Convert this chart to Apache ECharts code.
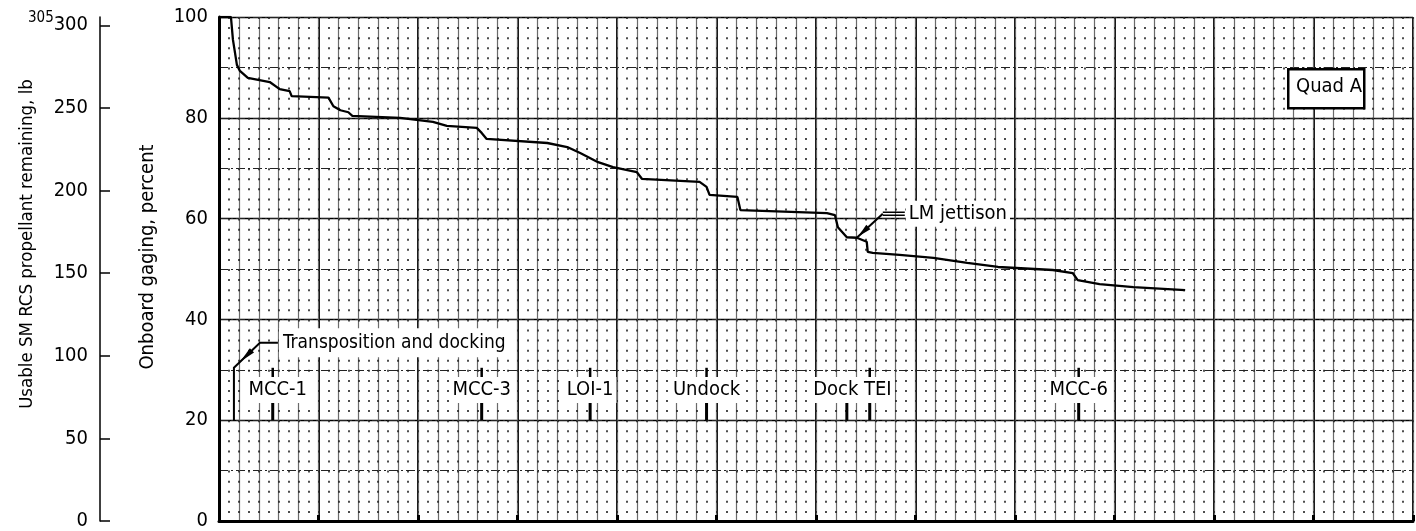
<!DOCTYPE html>
<html>
<head>
<meta charset="utf-8">
<script src="https://cdn.jsdelivr.net/npm/echarts@6/dist/echarts.min.js"></script>
<style>
  html, body { margin: 0; padding: 0; background: #fff; }
  #chart { width: 1416px; height: 531px; }
</style>
</head>
<body>
<div id="chart"></div>
<script>
// Mission elapsed time in chart-grid units (one minor division = 1 unit).
const missionTime = [
  0, 1.2, 1.4, 1.8, 2.1, 2.9, 5.1, 6.1, 7.1, 7.3, 11.0, 11.5, 12.2, 13.0, 13.4,
  18.2, 21.5, 22.9, 25.9, 26.4, 26.9, 33.0, 35.0, 36.3, 38.1, 39.6, 42.0, 42.5,
  48.3, 49.0, 49.3, 52.1, 52.4, 61.1, 61.9, 62.2, 63.1, 64.1, 65.1, 65.2, 65.7,
  68.4, 71.8, 75.2, 78.3, 83.8, 85.8, 86.3, 88.5, 91.9, 97.1
];
// Quad A onboard gaging, percent.
const gagingPercent = [
  100, 100, 95.5, 90.5, 89.3, 87.9, 87.1, 85.7, 85.3, 84.3, 84.0, 82.3, 81.5, 81.1, 80.4,
  80.0, 79.2, 78.4, 78.0, 77.0, 75.8, 75.0, 74.2, 73.0, 71.2, 70.2, 69.2, 67.9,
  67.3, 66.3, 64.7, 64.3, 61.7, 61.1, 60.7, 58.3, 56.3, 56.2, 55.4, 53.4, 53.2,
  52.8, 52.2, 51.2, 50.4, 49.8, 49.2, 47.8, 47.0, 46.4, 45.8
];

// Mission events marked along the 20-30 percent band.
const eventNames = ['MCC-1', 'MCC-3', 'LOI-1', 'Undock', 'Dock', 'TEI', 'MCC-6'];
const eventTimes = [5.4, 26.4, 37.3, 49.0, 63.1, 65.4, 86.4];

// Called-out events.
const dockingTime = 1.5;                 // transposition and docking
const lmJettison = [64.1, 56.2];         // time, gaging percent

// Axis scales.
const percentRange = [0, 100];
const poundsRange = [0, 305];            // 305 lb usable = 100 percent
const timeRange = [0, 120];

const NUM_FONT = '"DejaVu Sans Condensed", sans-serif';
const TXT_FONT = '"DejaVu Sans Condensed", sans-serif';

// Layout tweaks for event labels (pixels) and which events lack the upper tick.
const LABEL_SHIFT = { 'MCC-1': 5, 'Dock': -11, 'TEI': 8 };
const NO_UPPER_TICK = { 'Dock': true };

const chart = echarts.init(document.getElementById('chart'), null, { renderer: 'canvas' });

function hiddenAxisBits() {
  return { axisLine: { show: false }, axisTick: { show: false }, axisLabel: { show: false } };
}

function renderEvents(params, api) {
  const t = api.value(0);
  const name = eventNames[params.dataIndex];
  const shift = LABEL_SHIFT[name] || 0;
  const children = [];
  if (!NO_UPPER_TICK[name]) {
    const a = api.coord([t, 30.4]), b = api.coord([t, 28.4]);
    children.push({ type: 'line', shape: { x1: a[0], y1: a[1], x2: b[0], y2: b[1] },
      style: { stroke: '#000', lineWidth: 2.5 } });
  }
  const c = api.coord([t, 23.6]), d = api.coord([t, 20]);
  children.push({ type: 'line', shape: { x1: c[0], y1: c[1], x2: d[0], y2: d[1] },
    style: { stroke: '#000', lineWidth: 3 } });
  const lp = api.coord([t, 26]);
  children.push({ type: 'text', x: lp[0] + shift, y: lp[1], z2: 5,
    style: { text: name, fill: '#000', fontSize: 20, fontFamily: TXT_FONT,
      align: 'center', verticalAlign: 'middle', backgroundColor: '#fff', padding: [3, 3] } });
  return { type: 'group', children };
}

function arrowHead(from, to, pos, len, half) {
  // filled arrowhead on segment from->to, tip located at fraction pos, pointing toward "to"
  const dx = to[0] - from[0], dy = to[1] - from[1];
  const L = Math.hypot(dx, dy), ux = dx / L, uy = dy / L;
  const tip = [from[0] + dx * pos, from[1] + dy * pos];
  const bx = tip[0] - ux * len, by = tip[1] - uy * len;
  return [tip, [bx - uy * half, by + ux * half], [bx + uy * half, by - ux * half]];
}

function renderDocking(params, api) {
  const t = api.value(0);
  const base = api.coord([t, 20]);
  const knee = api.coord([t, 30.4]);
  const elbow = [knee[0] + 26, knee[1] - 25];
  const end = [elbow[0] + 18, elbow[1]];
  return { type: 'group', children: [
    { type: 'polyline', shape: { points: [base, knee, elbow, end] },
      style: { stroke: '#000', lineWidth: 2, fill: null } },
    { type: 'polygon', shape: { points: arrowHead(elbow, knee, 0.75, 16, 3) },
      style: { fill: '#000' } },
    { type: 'text', x: end[0] + 1, y: elbow[1], z2: 5,
      style: { text: 'Transposition and docking', fill: '#000', fontSize: 19, fontFamily: TXT_FONT,
        align: 'left', verticalAlign: 'middle', backgroundColor: '#fff', padding: [5, 4] } }
  ] };
}

function renderJettison(params, api) {
  const tip = api.coord([api.value(0), api.value(1)]);
  const elbow = [tip[0] + 26, tip[1] - 24];
  const end = [elbow[0] + 22, elbow[1]];
  return { type: 'group', children: [
    { type: 'line', shape: { x1: tip[0], y1: tip[1], x2: elbow[0], y2: elbow[1] },
      style: { stroke: '#000', lineWidth: 2 } },
    { type: 'polygon', shape: { points: arrowHead(elbow, tip, 0.95, 14, 3) },
      style: { fill: '#000' } },
    { type: 'line', shape: { x1: elbow[0], y1: elbow[1] - 1.5, x2: end[0], y2: end[1] - 1.5 },
      style: { stroke: '#000', lineWidth: 1.5 } },
    { type: 'line', shape: { x1: elbow[0], y1: elbow[1] + 1.5, x2: end[0], y2: end[1] + 1.5 },
      style: { stroke: '#000', lineWidth: 1.5 } },
    { type: 'text', x: end[0] + 1, y: elbow[1], z2: 5,
      style: { text: 'LM jettison', fill: '#000', fontSize: 20, fontFamily: TXT_FONT,
        align: 'left', verticalAlign: 'middle', backgroundColor: '#fff', padding: [3, 3] } }
  ] };
}

const option = {
  animation: false,
  backgroundColor: '#fff',
  grid: [
    // main plotting area
    { left: 219, right: 3, top: 17, bottom: 10, containLabel: false, outerBoundsMode: 'none' },
    // thin strip that carries the pounds scale
    { left: 100, width: 1, top: 17, bottom: 10, containLabel: false, outerBoundsMode: 'none' }
  ],
  xAxis: [
    { // major time divisions
      type: 'value', gridIndex: 0, min: timeRange[0], max: timeRange[1], interval: 10, position: 'bottom',
      axisLine: { show: true, onZero: false, lineStyle: { color: '#000', width: 3 } },
      axisTick: { show: true, inside: true, length: 6, lineStyle: { color: '#000', width: 3 } },
      axisLabel: { show: false },
      splitLine: { show: true, lineStyle: { color: '#111', width: 2 } }
    },
    Object.assign({ // solid minor lines
      type: 'value', gridIndex: 0, min: timeRange[0], max: timeRange[1], interval: 2, position: 'top',
      splitLine: { show: true, lineStyle: { color: '#6a6a6a', width: 1.2 } }
    }, hiddenAxisBits()),
    Object.assign({ // dotted minor lines
      type: 'value', gridIndex: 0, min: timeRange[0], max: timeRange[1], interval: 1, position: 'bottom', offset: 0,
      splitLine: { show: true, lineStyle: { color: '#222', width: 1.6, type: [2, 8.08] } }
    }, hiddenAxisBits()),
    Object.assign({ // companion axis of the pounds strip
      type: 'value', gridIndex: 1, min: 0, max: 1, splitLine: { show: false }
    }, hiddenAxisBits())
  ],
  yAxis: [
    { // onboard gaging, percent
      type: 'value', gridIndex: 0, min: percentRange[0], max: percentRange[1], interval: 20, position: 'left',
      name: 'Onboard gaging, percent', nameLocation: 'middle', nameRotate: 90, nameGap: 61,
      nameMoveOverlap: false,
      nameTextStyle: { color: '#000', fontSize: 20, fontFamily: TXT_FONT, padding: [0, 0, 0, 24] },
      axisLine: { show: true, lineStyle: { color: '#000', width: 3 } },
      axisTick: { show: false },
      axisLabel: { color: '#000', fontSize: 20, fontFamily: NUM_FONT, margin: 11, hideOverlap: false,
        padding: [6, 0, 0, 0] },
      splitLine: { show: true, lineStyle: { color: '#000', width: 1.4 } }
    },
    Object.assign({ // intermediate 10-percent lines
      type: 'value', gridIndex: 0, min: percentRange[0], max: percentRange[1], interval: 10, position: 'right',
      splitLine: { show: true, lineStyle: { color: '#222', width: 1, type: [9, 3, 2, 3] } }
    }, hiddenAxisBits()),
    { // usable propellant, lb
      type: 'value', gridIndex: 1, min: poundsRange[0], max: poundsRange[1], interval: 50, position: 'left',
      name: 'Usable SM RCS propellant remaining, lb', nameLocation: 'middle', nameRotate: 90, nameGap: 63,
      nameMoveOverlap: false,
      nameTextStyle: { color: '#000', fontSize: 18.5, fontFamily: TXT_FONT, padding: [0, 0, 0, 50] },
      axisLine: { show: true, lineStyle: { color: '#000', width: 1.5 } },
      axisTick: { show: true, inside: true, length: 10, lineStyle: { color: '#000', width: 1.5 } },
      axisLabel: {
        color: '#000', fontSize: 20, fontFamily: NUM_FONT, margin: 12,
        showMaxLabel: false, showMinLabel: true, hideOverlap: false,
        padding: [6, 0, 0, 0]
      },
      splitLine: { show: false }
    }
  ],
  graphic: [
    // full-scale value of the pounds scale, set as a superscript beside 300
    { type: 'text', left: 28, top: 11, z: 100,
      style: { text: String(poundsRange[1]), fill: '#000', fontSize: 15, fontFamily: NUM_FONT } },
    { type: 'rect', left: 1287, top: 68, z: 100,
      shape: { width: 76, height: 39 }, style: { fill: '#fff', stroke: '#000', lineWidth: 2.5 } },
    { type: 'text', left: 1296, top: 77, z: 101,
      style: { text: 'Quad A', fill: '#000', fontSize: 20, fontFamily: TXT_FONT } }
  ],
  series: [
    {
      type: 'line', name: 'Quad A', xAxisIndex: 0, yAxisIndex: 0, z: 10,
      data: missionTime.map((t, i) => [t, gagingPercent[i]]),
      showSymbol: false, symbol: 'none',
      lineStyle: { color: '#000', width: 2.3 }
    },
    {
      type: 'custom', xAxisIndex: 0, yAxisIndex: 0, z: 6, clip: false,
      data: eventTimes.map(t => [t, 0]),
      renderItem: renderEvents
    },
    {
      type: 'custom', xAxisIndex: 0, yAxisIndex: 0, z: 7, clip: false,
      data: [[dockingTime, 0]],
      renderItem: renderDocking
    },
    {
      type: 'custom', xAxisIndex: 0, yAxisIndex: 0, z: 11, clip: false,
      data: [lmJettison],
      renderItem: renderJettison
    }
  ]
};

chart.setOption(option);
</script>
</body>
</html>
